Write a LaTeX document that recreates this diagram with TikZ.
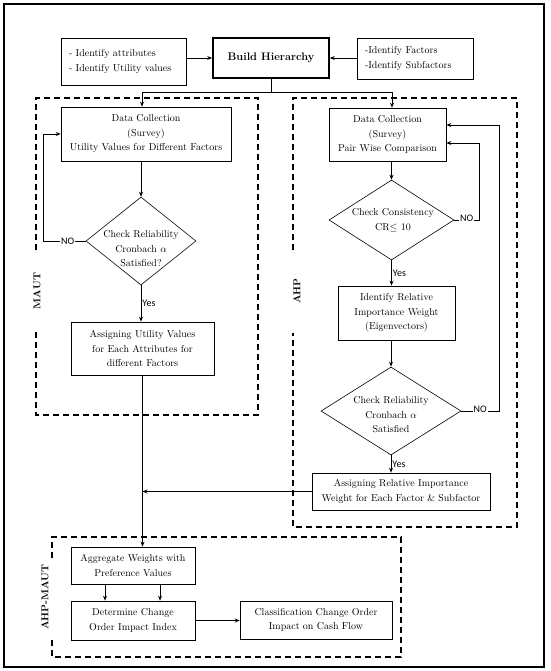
\documentclass[tikz,border=0pt]{standalone}
\usepackage{fontspec}
\newfontfamily\calfont{Carlito}
\usetikzlibrary{shapes.geometric,arrows.meta}
\begin{document}
\begin{tikzpicture}[x=1pt,y=-1pt,
  box/.style={draw,line width=0.6pt,align=center,inner sep=2pt,font=\fontsize{10}{14.5}\selectfont},
  dia/.style={draw,diamond,line width=0.6pt,inner sep=0pt},
  txt/.style={align=center,inner sep=0pt,font=\fontsize{10}{14.5}\selectfont},
  arr/.style={line width=0.9pt,-{Stealth[length=5pt,width=4pt]}},
  ln/.style={line width=0.9pt},
  dbox/.style={line width=1.3pt,dash pattern=on 6pt off 4pt},
  lab/.style={font=\calfont\fontsize{10}{12}\selectfont,inner sep=1pt},
  sec/.style={font=\bfseries\fontsize{10}{12}\selectfont,rotate=90,inner sep=0pt}
]
\path[use as bounding box] (0,0) rectangle (550,671);
\draw[line width=1.1pt] (4,4) rectangle (544,667);

% dashed groups
\draw[dbox] (36,250) -- (36,98) -- (258,98) -- (258,415) -- (36,415) -- (36,332);
\draw[dbox] (293,250) -- (293,98) -- (517,98) -- (517,527) -- (293,527) -- (293,333);
\draw[dbox] (52,558) -- (52,537) -- (401,537) -- (401,657) -- (52,657) -- (52,637);
\node[sec] (maut) at (37,291) {MAUT};
\node[sec] (ahp) at (297,291) {AHP};
\node[sec] (ahpmaut) at (45,597) {AHP-MAUT};

% top row
\node[box,inner xsep=8pt,text width=109pt,minimum height=47pt,align=left] (lbox) at (123.5,61.5) {- Identify attributes\\- Identify Utility values};
\node[box,line width=1.6pt,minimum width=116pt,minimum height=40pt,font=\bfseries\fontsize{11}{13}\selectfont] (build) at (271,58) {Build Hierarchy};
\node[box,inner xsep=8pt,text width=100pt,minimum height=41pt,align=left] (rbox) at (415,58.5) {-Identify Factors\\-Identify Subfactors};
\draw[arr] (lbox.east|-build.west) -- (build.west);
\draw[arr] (rbox.west|-build.east) -- (build.east);
\coordinate (hl) at (142,92);
\coordinate (hr) at (392,92);
\draw[ln] (build.south) -- (build.south|-hl);
\draw[ln] (hl) -- (hr);

% MAUT
\node[box,minimum width=170pt,minimum height=54pt] (mdata) at (146,134) {Data Collection\\(Survey)\\Utility Values for Different Factors};
\node[dia,minimum width=110pt,minimum height=88pt] (mdia) at (141,241) {};
\node[txt] (mdiat) at (141,249) {Check Reliability\\Cronbach $\alpha$\\Satisfied?};
\node[box,minimum width=143pt,minimum height=53pt] (massign) at (142.5,348.5) {Assigning Utility Values\\for Each Attributes for\\different Factors};
\draw[arr] (hl) -- (hl|-mdata.north);
\draw[arr,line width=0.6pt] (mdata.south-|mdia.north) -- (mdia.north);
\draw[arr] (mdia.south) -- (mdia.south|-massign.north) node[lab,midway,right] (myes) {Yes};
\coordinate (mloop) at (43,241);
\draw[arr] (mdia.west) -- node[lab,fill=white,pos=0.42] (mno) {NO} (mloop) |- (mdata.west);

% AHP
\node[box,minimum width=117pt,minimum height=53pt] (adata) at (387.5,134.5) {Data Collection\\(Survey)\\Pair Wise Comparison};
\node[dia,minimum width=125pt,minimum height=80pt] (adia1) at (391.5,220) {};
\node[txt] (adia1t) at (393,220) {Check Consistency\\CR$\leq$ 10};
\node[box,minimum width=117pt,minimum height=54pt] (aident) at (396.5,313) {Identify Relative\\Importance Weight\\(Eigenvectors)};
\node[dia,minimum width=140pt,minimum height=88pt] (adia2) at (391,411) {};
\node[txt] (adia2t) at (391,415) {Check Reliability\\Cronbach $\alpha$\\Satisfied};
\node[box,minimum width=178pt,minimum height=37pt] (aassign) at (401,491.5) {Assigning Relative Importance\\Weight for Each Factor \& Subfactor};
\draw[arr] (hr) -- (hr|-adata.north);
\draw[arr,line width=0.6pt] (adata.south-|adia1.north) -- (adia1.north);
\draw[arr] (adia1.south) -- (adia1.south|-aident.north) node[lab,midway,right] (ayes1) {Yes};
\draw[arr] (aident.south-|adia2.north) -- (adia2.north);
\draw[arr] (adia2.south) -- (adia2.south|-aassign.north) node[lab,midway,right] (ayes2) {Yes};
\coordinate (l1) at (479,220);
\coordinate (l1t) at (479,143);
\draw[arr] (adia1.east) -- node[lab,fill=white,yshift=2pt] (ano1) {NO} (l1) -- (l1t) -- (adata.east|-l1t);
\coordinate (l2) at (499,411);
\coordinate (l2t) at (499,125);
\draw[arr] (adia2.east) -- node[lab,fill=white,yshift=2pt] (ano2) {NO} (l2) -- (l2t) -- (adata.east|-l2t);

% AHP-MAUT
\node[box,minimum width=124pt,minimum height=37pt] (agg) at (133,565.5) {Aggregate Weights with\\Preference Values};
\node[box,minimum width=124pt,minimum height=39pt] (det) at (133,620.5) {Determine Change\\Order Impact Index};
\node[box,minimum width=152pt,minimum height=38pt] (cls) at (316,620) {Classification Change Order\\Impact on Cash Flow};
\draw[arr] (massign.south) -- (massign.south|-agg.north);
\draw[arr] (aassign.west) -- (aassign.west-|massign.south);
\draw[arr] ([xshift=-28pt]agg.south) -- ([xshift=-28pt]det.north);
\draw[arr] ([xshift=27pt]agg.south) -- ([xshift=27pt]det.north);
\draw[arr] (det.east) -- (det.east-|cls.west);
\end{tikzpicture}
\end{document}
